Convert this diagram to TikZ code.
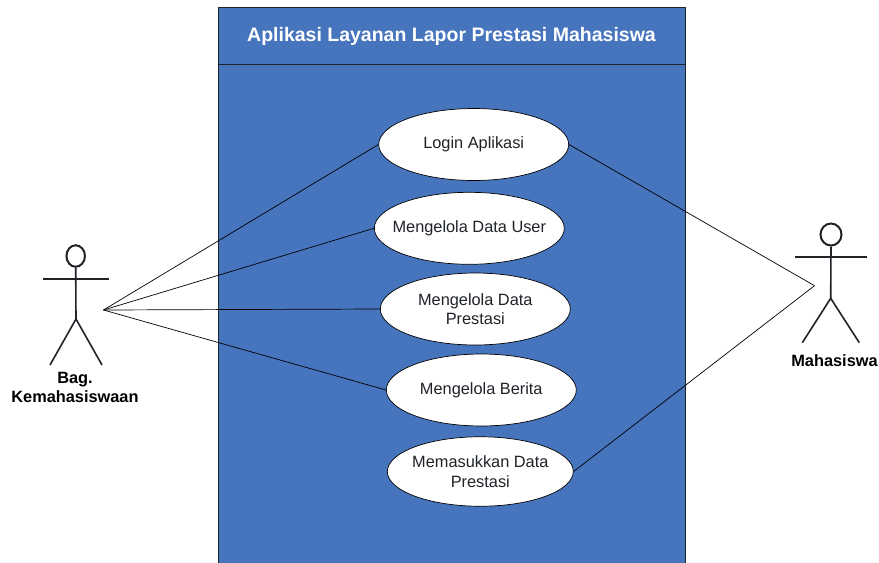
\documentclass[tikz,border=0pt]{standalone}
\usepackage{fontspec}
\setmainfont{Liberation Sans}
\usepackage{tikz}
\usetikzlibrary{calc, shapes.geometric}
\definecolor{sysblue}{HTML}{4675BE}
\definecolor{inkdark}{HTML}{1F2328}
\tikzset{
    usecase/.style={draw=black, fill=white, ellipse, inner sep=0pt, minimum width=3.8cm, minimum height=1.44cm, align=center, font=\fontsize{9.3}{11.2}\selectfont, text=inkdark},
    limb/.style={draw=inkdark, line width=0.32mm},
    actorname/.style={align=center, font=\fontsize{9.3}{11.2}\selectfont\bfseries, text=black},
    assoc/.style={draw=black, line width=0.4pt}
}

\begin{document}
\begin{tikzpicture}[x=0.02cm, y=-0.02cm]
        \useasboundingbox (0,0) rectangle (879,562);
        % system box
        \node[draw=inkdark, fill=sysblue, minimum width=9.36cm, minimum height=11.2cm, inner sep=0pt, anchor=north west] (sistem) at (217.5,6.5) {};
        \coordinate (judulL) at (217.5,64.5);
        \coordinate (judulR) at (686,64.5);
        \draw[draw=inkdark, line width=0.6pt] (judulL) -- (judulR);
        \node[text=white, font=\fontsize{11.1}{13}\selectfont\bfseries] (judul) at (451.5,36) {Aplikasi Layanan Lapor Prestasi Mahasiswa};
        % use cases
        \node[usecase] (login) at (473.7,144.5) {Login Aplikasi};
        \node[usecase] (user) at (469.3,228.3) {\makebox[2.6cm]{Mengelola Data User}};
        \node[usecase] (prestasi) at (475.3,309) {Mengelola Data\\Prestasi};
        \node[usecase] (berita) at (481.3,390) {Mengelola Berita};
        \node[usecase, minimum width=3.72cm, minimum height=1.39cm] (masuk) at (480.3,471.5) {\makebox[2.6cm]{Memasukkan Data}\\Prestasi};
        % left actor
        \node[ellipse, draw=inkdark, line width=0.4mm, minimum width=0.37cm, minimum height=0.43cm, inner sep=0pt] (kepalaA) at (75.7,256) {};
        \coordinate (lenganAL) at (42.7,279);
        \coordinate (lenganAR) at (109,279);
        \coordinate (pinggulA) at (76,319);
        \coordinate (kakiAL) at (50,365);
        \coordinate (kakiAR) at (102,365);
        \draw[limb] (kepalaA.south) -- (pinggulA);
        \draw[limb] (lenganAL) -- (lenganAR);
        \draw[limb] (kakiAL) -- (pinggulA) -- (kakiAR);
        \node[actorname] (bag) at (75,387.5) {Bag.\\Kemahasiswaan};
        % right actor
        \node[ellipse, draw=inkdark, line width=0.4mm, minimum width=0.42cm, minimum height=0.44cm, inner sep=0pt] (kepalaB) at (831,234.5) {};
        \coordinate (lenganBL) at (795,257);
        \coordinate (lenganBR) at (867.3,257);
        \coordinate (pinggulB) at (830.7,298.3);
        \coordinate (kakiBL) at (802.3,342.7);
        \coordinate (kakiBR) at (859.3,342.7);
        \draw[limb] (kepalaB.south) -- (pinggulB);
        \draw[limb] (lenganBL) -- (lenganBR);
        \draw[limb] (kakiBL) -- (pinggulB) -- (kakiBR);
        \node[actorname] (mhs) at (834.5,360.7) {Mahasiswa};
        % associations
        \coordinate (hubA) at (103.5,310);
        \coordinate (hubB) at (814.5,285.7);
        \foreach \u in {login,user,prestasi,berita}
            \draw[assoc] (hubA) -- (\u.west);
        \draw[assoc] (hubB) -- (login.east);
        \draw[assoc] (hubB) -- (masuk.east);
\end{tikzpicture}
\end{document}
